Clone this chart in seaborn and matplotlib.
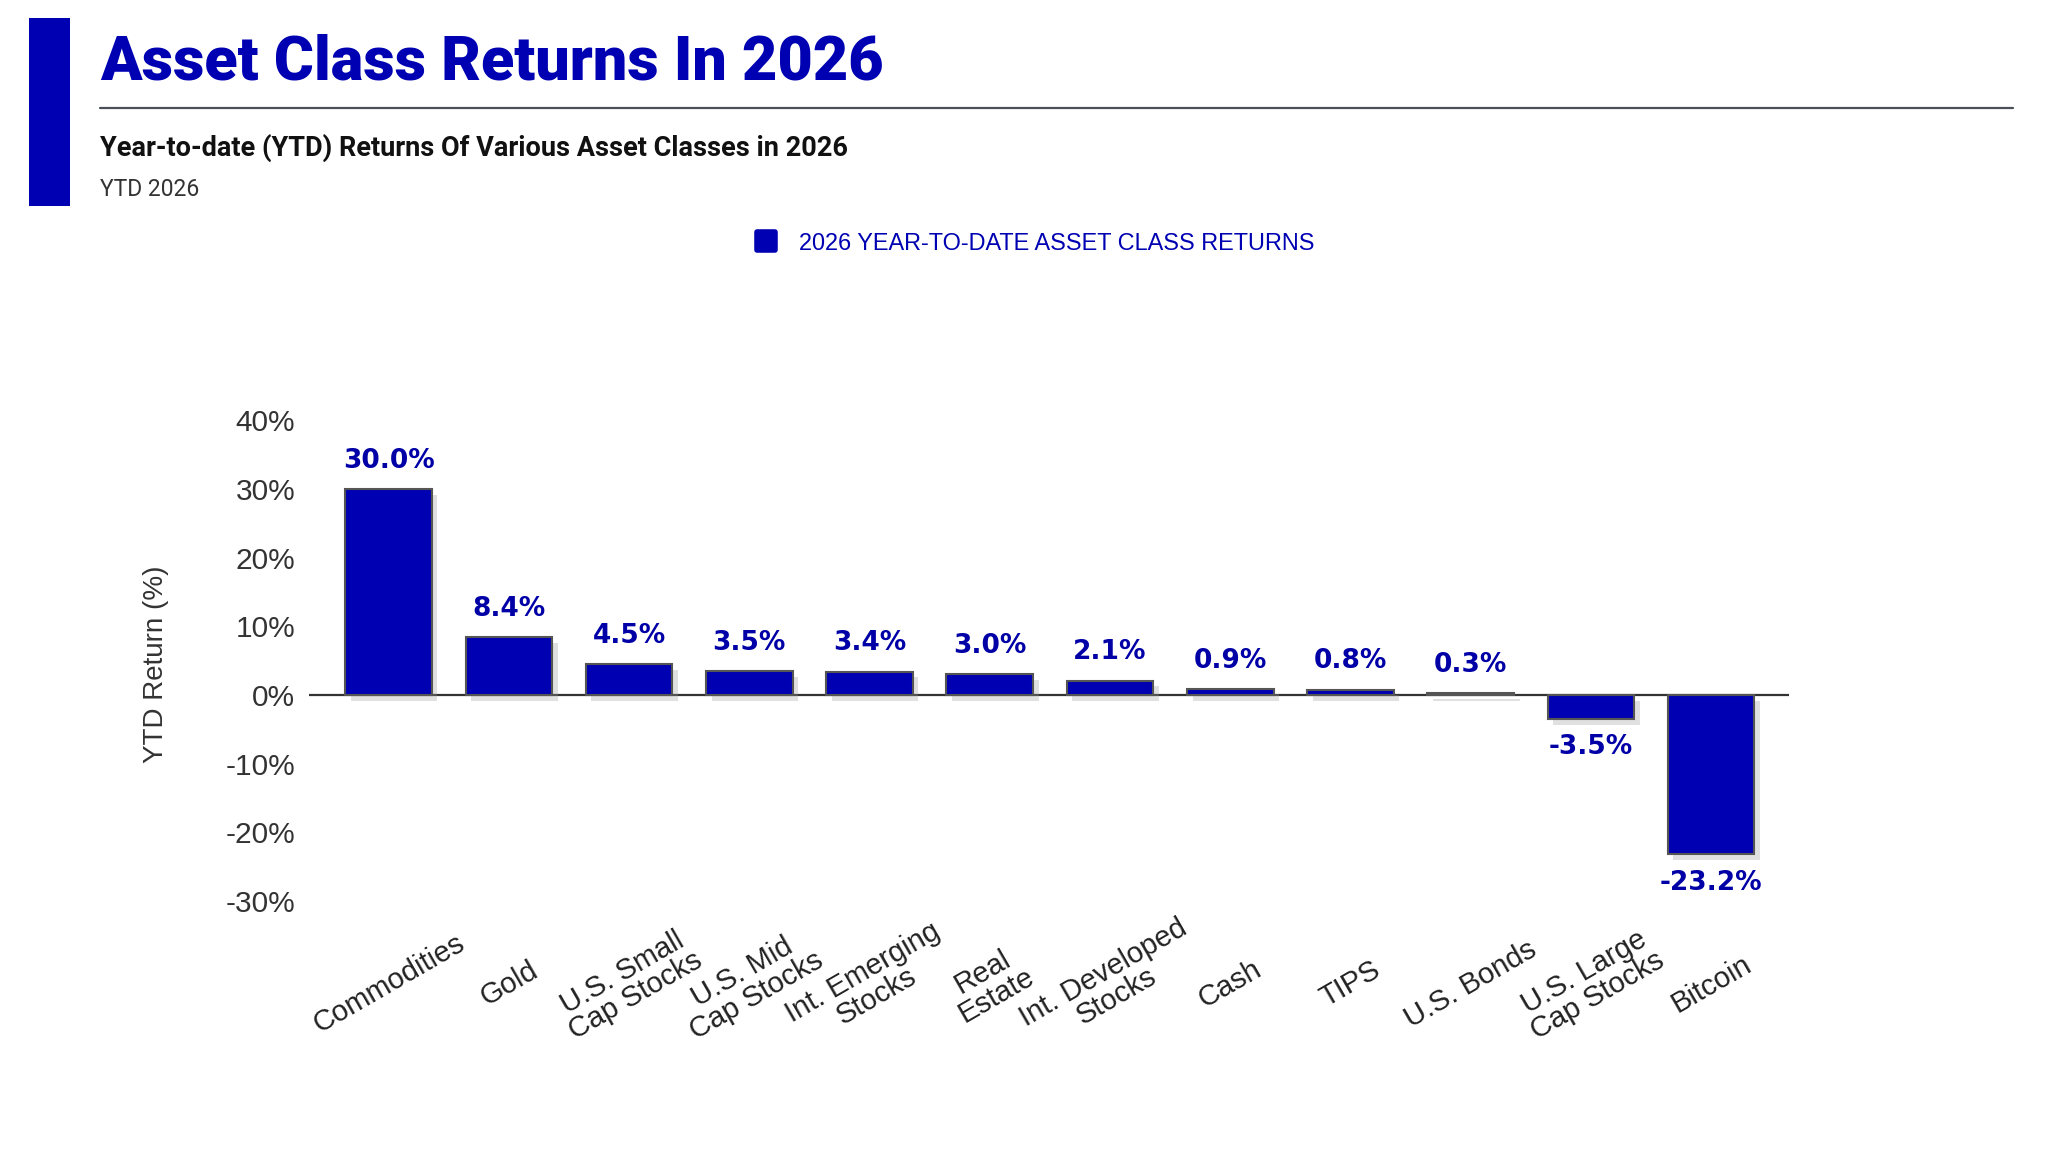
import matplotlib
matplotlib.use("Agg")
import matplotlib.pyplot as plt
import matplotlib.patheffects as pe
from matplotlib.lines import Line2D
from matplotlib.markers import MarkerStyle
from matplotlib.patches import Rectangle
import seaborn as sns

# data
categories = ["Commodities", "Gold", "U.S. Small\nCap Stocks", "U.S. Mid\nCap Stocks",
              "Int. Emerging\nStocks", "Real\nEstate", "Int. Developed\nStocks", "Cash",
              "TIPS", "U.S. Bonds", "U.S. Large\nCap Stocks", "Bitcoin"]
returns = [30.0, 8.4, 4.5, 3.5, 3.4, 3.0, 2.1, 0.9, 0.8, 0.3, -3.5, -23.2]
y_ticks = [-30, -20, -10, 0, 10, 20, 30, 40]
series_name = "2026 YEAR-TO-DATE ASSET CLASS RETURNS"

BLUE = "#0000B3"
LABEL_BLUE = "#0000A6"
TEXT = "#333333"

sns.set_style("white")
plt.rcParams["font.family"] = ["Liberation Sans", "DejaVu Sans"]

fig = plt.figure(figsize=(20.48, 11.52), dpi=100)
ax = fig.add_axes([0.151, 0.200, 0.7227, 0.447])

sns.barplot(x=categories, y=returns, color=BLUE, saturation=1, width=0.72,
            edgecolor="#555555", linewidth=1.5, ax=ax)

for bar in ax.patches:
    bar.set_path_effects([pe.SimplePatchShadow(offset=(4, -4), shadow_rgbFace="#999999", alpha=0.3),
                          pe.Normal()])

ax.bar_label(ax.containers[0], labels=[f"{v:.1f}%" for v in returns], padding=11,
             fontsize=19, fontweight="bold", color=LABEL_BLUE, family="DejaVu Sans")

ax.axhline(0, color="#333333", lw=1.6, zorder=0)
ax.set_xlim(-0.66, len(categories) - 0.35)
ax.set_ylim(-33, 42)
ax.set_yticks(y_ticks)
ax.set_yticklabels([f"{t}%" for t in y_ticks])
sns.despine(ax=ax, left=True, bottom=True)
ax.tick_params(axis="y", length=0, pad=10, labelsize=21.5, labelcolor=TEXT)
ax.tick_params(axis="x", length=0, pad=45, labelsize=21, labelcolor="#222222")
for lbl in ax.get_xticklabels():
    lbl.set_rotation(30)
    lbl.set_ha("center")
    lbl.set_va("center")
    lbl.set_rotation_mode("anchor")
    lbl.set_multialignment("center")
    lbl.set_linespacing(0.95)

ax.set_xlabel("")
ax.set_ylabel("YTD Return (%)", fontsize=20, color=TEXT)
ax.yaxis.set_label_coords(-0.095, 0.5)

# header
fig.add_artist(Rectangle((29 / 2048, 1 - 206 / 1152), 41 / 2048, 188 / 1152,
                         transform=fig.transFigure, color=BLUE, lw=0))
fig.text(100 / 2048, 1 - 79 / 1152, "Asset Class Returns In 2026", fontsize=44,
         fontweight="black", color=BLUE, va="baseline", family=["Roboto", "DejaVu Sans"])
fig.add_artist(Line2D([100 / 2048, 2013 / 2048], [1 - 108 / 1152] * 2,
                      transform=fig.transFigure, color="#4a4f5a", lw=1.6))
fig.text(100 / 2048, 1 - 148 / 1152, "Year-to-date (YTD) Returns Of Various Asset Classes in 2026",
         fontsize=19.5, fontweight="bold", color="#111111", va="center",
         family=["Roboto", "DejaVu Sans"])
fig.text(100 / 2048, 1 - 189 / 1152, "YTD 2026", fontsize=16.5, color=TEXT,
         va="center", family=["Roboto", "DejaVu Sans"])

handle = Line2D([], [], linestyle="none", marker=MarkerStyle("s", joinstyle="round"),
                markersize=13, markerfacecolor=BLUE, markeredgecolor=BLUE, markeredgewidth=4)
leg = fig.legend([handle], [series_name], loc="center", bbox_to_anchor=(0.505, 1 - 243 / 1152),
                 frameon=False, fontsize=16.9, handletextpad=0.9, handlelength=1.0)
for t in leg.get_texts():
    t.set_color(BLUE)

fig.savefig("out.png", dpi=100, facecolor="white")
